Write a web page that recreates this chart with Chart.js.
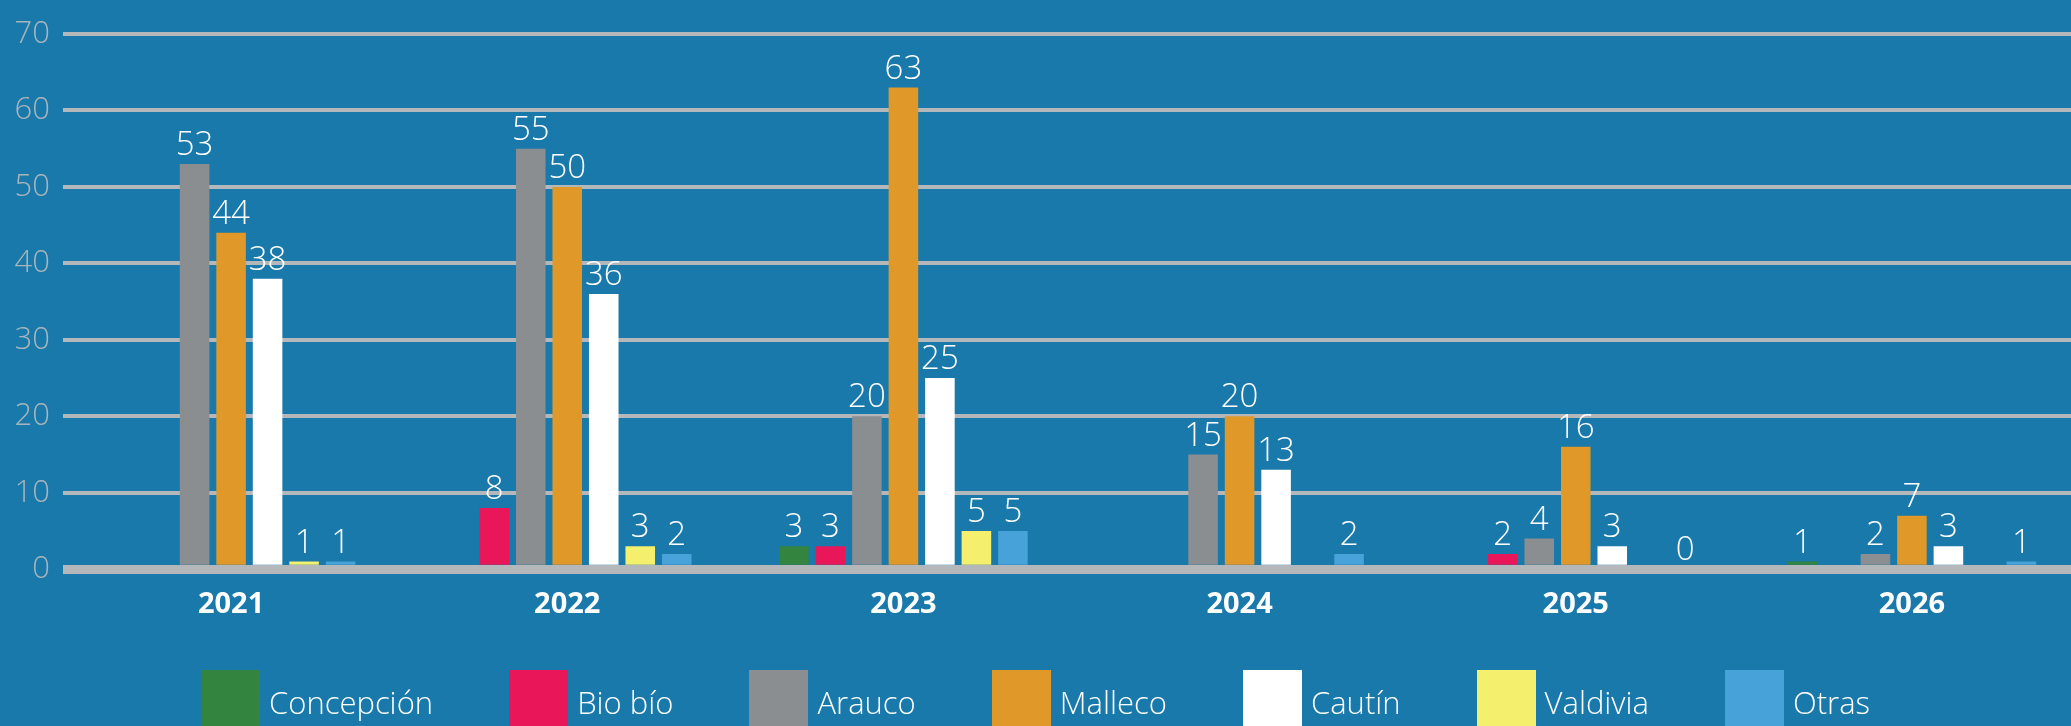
<!DOCTYPE html>
<html lang="es">
<head>
<meta charset="utf-8">
<title>Grafico por año</title>
<script src="https://cdn.jsdelivr.net/npm/chart.js@4/dist/chart.umd.min.js"></script>
<style>
  html, body { margin: 0; padding: 0; overflow: hidden; background: #1979ab; }
  #wrap { position: relative; width: 2071px; height: 726px; overflow: hidden; }
  #grafico { position: absolute; left: 0; top: 0; }
  #leyenda {
    position: absolute; left: 0; top: 670px; width: 2071px;
    display: flex; justify-content: center;
    font-family: "Open Sans", Lato, sans-serif; font-weight: 300;
    font-size: 31px; color: #ffffff;
  }
  .item { display: flex; align-items: flex-start; margin: 0 38px; }
  .caja { width: 59px; height: 64px; margin-right: 9px; }
  .texto { line-height: 64px; }
</style>
</head>
<body>
<div id="wrap">
  <canvas id="grafico" width="2080" height="726"></canvas>
  <div id="leyenda"></div>
</div>
<script>
// datos del grafico
const anios = ['2021', '2022', '2023', '2024', '2025', '2026'];
const concepcion = [null, null, 3, null, null, 1];
const bioBio = [null, 8, 3, null, 2, null];
const arauco = [53, 55, 20, 15, 4, 2];
const malleco = [44, 50, 63, 20, 16, 7];
const cautin = [38, 36, 25, 13, 3, 3];
const valdivia = [1, 3, 5, null, null, null];
const otras = [1, 2, 5, 2, 0, 1];

const nombres = ['Concepción', 'Bio bío', 'Arauco', 'Malleco', 'Cautín', 'Valdivia', 'Otras'];
const colores = ['#33843e', '#e9175a', '#8a8e91', '#e09828', '#ffffff', '#f5ef6e', '#47a2da'];
const series = [concepcion, bioBio, arauco, malleco, cautin, valdivia, otras];

// eje y
const yMin = 0;
const yMax = 70;
const yPaso = 10;

const fuente = '"Open Sans", Lato, sans-serif';

document.addEventListener('DOMContentLoaded', function () {
  // etiquetas encima de cada barra
  const etiquetas = {
    id: 'etiquetas',
    afterDatasetsDraw(chart) {
      const ctx = chart.ctx;
      ctx.save();
      ctx.fillStyle = '#ffffff';
      ctx.font = '300 33px ' + fuente;
      ctx.textAlign = 'center';
      ctx.textBaseline = 'alphabetic';
      chart.data.datasets.forEach((ds, i) => {
        const meta = chart.getDatasetMeta(i);
        meta.data.forEach((bar, j) => {
          const v = ds.data[j];
          if (v === null || v === undefined) return;
          ctx.fillText(String(v), bar.x, bar.y - 9);
        });
      });
      ctx.restore();
    }
  };

  const ctx = document.getElementById('grafico').getContext('2d');
  new Chart(ctx, {
    type: 'bar',
    data: {
      labels: anios,
      datasets: series.map((d, i) => ({
        label: nombres[i],
        data: d,
        backgroundColor: colores[i],
        borderWidth: 0,
        categoryPercentage: 0.76,
        barPercentage: 0.81
      }))
    },
    options: {
      responsive: false,
      animation: false,
      devicePixelRatio: 1,
      layout: { padding: { top: 34, right: 0, bottom: 86, left: 0 } },
      plugins: {
        legend: { display: false },
        tooltip: { enabled: false }
      },
      scales: {
        x: {
          grid: { display: false, drawTicks: false },
          border: { display: false },
          ticks: {
            color: '#ffffff',
            font: { family: fuente, size: 29, weight: 'bold' },
            padding: 18
          }
        },
        y: {
          min: yMin,
          max: yMax,
          ticks: {
            stepSize: yPaso,
            color: '#aab5bb',
            font: { family: fuente, size: 31, weight: 300 },
            padding: 13
          },
          grid: {
            color: '#b4b8ba',
            lineWidth: c => (c.tick && c.tick.value === 0 ? 9 : 4),
            drawTicks: false
          },
          border: { display: false },
          afterFit: scale => { scale.width = 63; }
        }
      }
    },
    plugins: [etiquetas]
  });

  // leyenda en html
  const leyenda = document.getElementById('leyenda');
  nombres.forEach((n, i) => {
    const item = document.createElement('div');
    item.className = 'item';
    const caja = document.createElement('div');
    caja.className = 'caja';
    caja.style.background = colores[i];
    const texto = document.createElement('span');
    texto.className = 'texto';
    texto.textContent = n;
    item.appendChild(caja);
    item.appendChild(texto);
    leyenda.appendChild(item);
  });
});
</script>
</body>
</html>
